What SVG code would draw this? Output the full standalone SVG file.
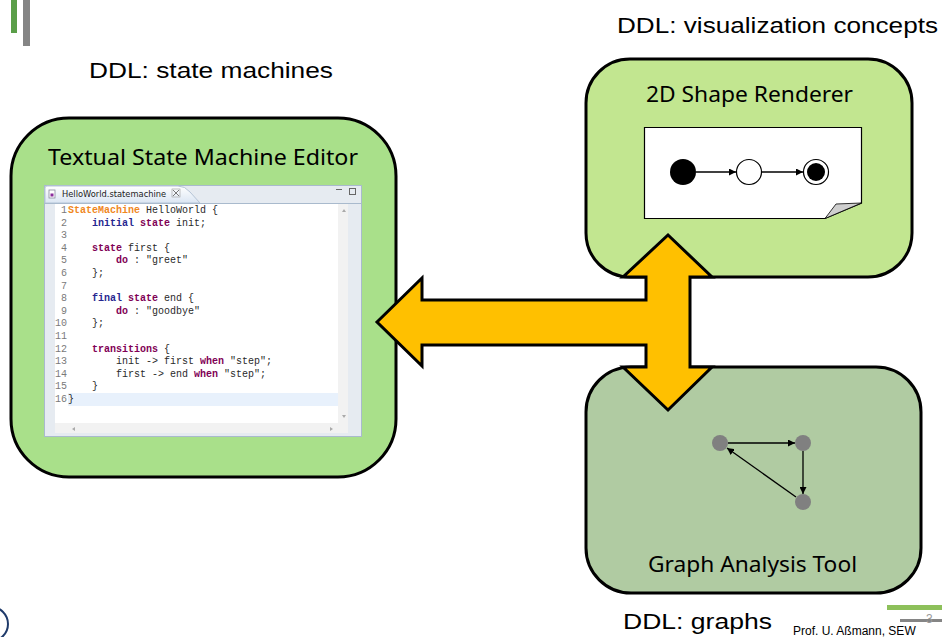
<svg xmlns="http://www.w3.org/2000/svg" width="942" height="637" viewBox="0 0 942 637">
  <style>
    .title{font-family:"Noto Sans","Open Sans",sans-serif;font-size:22px;fill:#000}
    .lbl{font-family:"Liberation Sans",Arial,sans-serif;font-size:22px;fill:#000}
    .code{font-family:"Liberation Mono","Courier New",monospace;font-size:10px;fill:#2a2a2a}
    .ln{fill:#7a7a7a;text-anchor:end}
    .k1{fill:#f0871e;font-weight:bold}
    .k2{fill:#262690;font-weight:bold}
    .k3{fill:#7f0055;font-weight:bold}
    .box{stroke:#000;stroke-width:3}
    .edge{stroke:#000;stroke-width:1.3;fill:none}
  </style>
  <defs>
    <marker id="ah" viewBox="0 0 10 10" refX="10" refY="5" markerWidth="7" markerHeight="7" orient="auto" markerUnits="userSpaceOnUse">
      <path d="M0,0 L10,5 L0,10 z" fill="#000"/>
    </marker>
    <linearGradient id="tabg" x1="0" y1="0" x2="0" y2="1">
      <stop offset="0" stop-color="#ffffff"/>
      <stop offset="1" stop-color="#dbe6f3"/>
    </linearGradient>
  </defs>

  <rect width="942" height="637" fill="#fff"/>

  <!-- page decorations -->
  <rect x="11" y="0" width="6" height="33" fill="#5a9e48"/>
  <rect x="23" y="0" width="7" height="46" fill="#858585"/>
  <rect x="887" y="605" width="55" height="5" fill="#8dc05a"/>
  <rect x="900" y="619" width="42" height="3" fill="#858585"/>
  <text x="926" y="623" font-family="Liberation Sans,Arial,sans-serif" font-size="12" fill="#9a9a9a">3</text>
  <text x="793" y="635" font-family="Liberation Sans,Arial,sans-serif" font-size="12" fill="#000">Prof. U. Aßmann, SEW</text>
  <circle cx="-9" cy="624" r="17" fill="none" stroke="#1f3a6a" stroke-width="2"/>

  <!-- labels -->
  <text class="lbl" x="89" y="78" textLength="244" lengthAdjust="spacingAndGlyphs">DDL: state machines</text>
  <text class="lbl" x="617" y="33" textLength="321" lengthAdjust="spacingAndGlyphs">DDL: visualization concepts</text>
  <text class="lbl" x="623" y="629" textLength="149" lengthAdjust="spacingAndGlyphs">DDL: graphs</text>

  <!-- textual editor -->
  <g id="editor">
    <rect class="box" x="11" y="118" width="385" height="359" rx="58" fill="#a9e08a"/>
    <text class="title" x="48" y="165" textLength="310" lengthAdjust="spacingAndGlyphs">Textual State Machine Editor</text>
    <!-- window frame -->
    <rect x="44.5" y="185.5" width="317" height="251" fill="#e6ebf1" stroke="#a9bacd"/>
    <path d="M45,203 L45,188 Q45,186 47,186 L178,186 Q185,186 190,192 L200,203 Z" fill="url(#tabg)" stroke="#b5c4d6"/>
    <line x1="45" y1="203.5" x2="361" y2="203.5" stroke="#a9bacd"/>
    <rect x="49" y="190" width="6" height="8" fill="#fff" stroke="#8a8aa0" stroke-width="0.8"/>
    <rect x="50.5" y="193.5" width="3" height="3" fill="#8b2c9c"/>
    <text x="62" y="197" font-family="Tahoma,'DejaVu Sans',sans-serif" font-size="8.3" fill="#222">HelloWorld.statemachine</text>
    <path d="M173,190 L179,196 M179,190 L173,196" stroke="#777" stroke-width="1"/>
    <rect x="172" y="189" width="8" height="8" fill="none" stroke="#999" stroke-width="0.6"/>
    <line x1="336" y1="189.5" x2="342" y2="189.5" stroke="#666"/>
    <rect x="349.5" y="188.5" width="6" height="6" fill="none" stroke="#666"/>
    <!-- text area -->
    <rect x="55" y="204" width="293" height="219" fill="#fff"/>
    <rect x="338" y="204" width="10" height="219" fill="#f2f2f2"/>
    <rect x="55" y="423" width="293" height="10" fill="#f2f2f2"/>
    <path d="M342,212 L344,209 L346,212 Z M342,415 L346,415 L344,418 Z" fill="#aaa"/>
    <path d="M75,427 L72,429 L75,431 Z M330,427 L333,429 L330,431 Z" fill="#aaa"/>
    <rect x="68" y="393" width="270" height="13" fill="#e8f1fc"/>
    <g class="code" xml:space="preserve">
      <text class="ln" x="67" y="213">1</text>
      <text class="ln" x="67" y="225.6">2</text>
      <text class="ln" x="67" y="238.2">3</text>
      <text class="ln" x="67" y="250.8">4</text>
      <text class="ln" x="67" y="263.4">5</text>
      <text class="ln" x="67" y="276">6</text>
      <text class="ln" x="67" y="288.6">7</text>
      <text class="ln" x="67" y="301.2">8</text>
      <text class="ln" x="67" y="313.8">9</text>
      <text class="ln" x="67" y="326.4">10</text>
      <text class="ln" x="67" y="339">11</text>
      <text class="ln" x="67" y="351.6">12</text>
      <text class="ln" x="67" y="364.2">13</text>
      <text class="ln" x="67" y="376.8">14</text>
      <text class="ln" x="67" y="389.4">15</text>
      <text class="ln" x="67" y="402">16</text>
      <text x="68" y="213"><tspan class="k1">StateMachine</tspan> HelloWorld {</text>
      <text x="92" y="225.6"><tspan class="k2">initial</tspan> <tspan class="k3">state</tspan> init;</text>
      <text x="92" y="250.8"><tspan class="k3">state</tspan> first {</text>
      <text x="116" y="263.4"><tspan class="k3">do</tspan> : "greet"</text>
      <text x="92" y="276">};</text>
      <text x="92" y="301.2"><tspan class="k2">final</tspan> <tspan class="k3">state</tspan> end {</text>
      <text x="116" y="313.8"><tspan class="k3">do</tspan> : "goodbye"</text>
      <text x="92" y="326.4">};</text>
      <text x="92" y="351.6"><tspan class="k3">transitions</tspan> {</text>
      <text x="116" y="364.2">init -&gt; first <tspan class="k3">when</tspan> "step";</text>
      <text x="116" y="376.8">first -&gt; end <tspan class="k3">when</tspan> "step";</text>
      <text x="92" y="389.4">}</text>
      <text x="68" y="402">}</text>
    </g>
  </g>

  <!-- 2D shape renderer -->
  <g id="renderer">
    <rect class="box" x="586" y="59" width="326" height="218" rx="44" fill="#c2e690"/>
    <text class="title" x="646" y="102" textLength="207" lengthAdjust="spacingAndGlyphs">2D Shape Renderer</text>
    <path d="M644.5,127.5 L861.5,127.5 L861.5,203 L825,218.5 L644.5,218.5 Z" fill="#fff" stroke="#000" stroke-width="1.2"/>
    <path d="M825,218.5 L836,204 L861.5,203 Z" fill="#cfcfcf" stroke="#000" stroke-width="0.8"/>
    <circle cx="683" cy="172" r="13" fill="#000"/>
    <circle cx="749" cy="172" r="12.5" fill="#fff" stroke="#000" stroke-width="1.2"/>
    <circle cx="816" cy="172" r="12.5" fill="#fff" stroke="#000" stroke-width="1.2"/>
    <circle cx="816" cy="172" r="9" fill="#000"/>
    <line class="edge" x1="696" y1="172" x2="736" y2="172" marker-end="url(#ah)"/>
    <line class="edge" x1="762" y1="172" x2="803" y2="172" marker-end="url(#ah)"/>
  </g>

  <!-- graph analysis tool -->
  <g id="graph">
    <rect class="box" x="586" y="367" width="335" height="226" rx="45" fill="#b0cba2"/>
    <text class="title" x="648" y="572" textLength="209" lengthAdjust="spacingAndGlyphs">Graph Analysis Tool</text>
    <line class="edge" x1="728" y1="443" x2="795" y2="443" marker-end="url(#ah)"/>
    <line class="edge" x1="803" y1="451" x2="803" y2="494" marker-end="url(#ah)"/>
    <line class="edge" x1="796" y1="497" x2="727" y2="448" marker-end="url(#ah)"/>
    <circle cx="720" cy="443" r="8" fill="#808080"/>
    <circle cx="803" cy="443" r="8" fill="#808080"/>
    <circle cx="803" cy="502" r="8" fill="#808080"/>
  </g>

  <!-- connectors -->
  <g id="connectors">
    <path d="M377,322 L422,278 L422,300 L646,300 L646,277 L623,277 L668,235 L712,277 L690,277 L690,367 L712,367 L668,410 L623,367 L646,367 L646,345 L422,345 L422,366 Z" fill="#ffc000" stroke="#000" stroke-width="3" stroke-linejoin="miter"/>
  </g>
</svg>
